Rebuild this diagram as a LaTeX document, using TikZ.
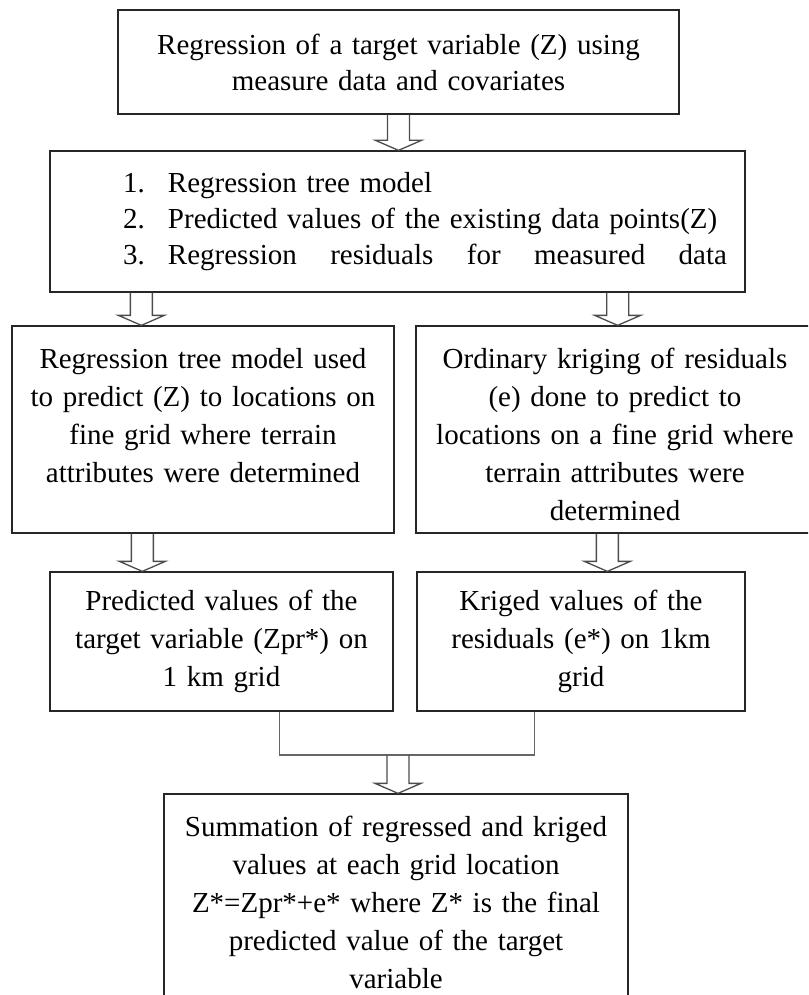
\documentclass[tikz,border=0pt]{standalone}
\usepackage{fontspec}
\setmainfont{Liberation Serif}
\usetikzlibrary{calc, positioning}

\begin{document}
\begin{tikzpicture}[ % Starts the TikZ drawing environment
        x=1pt, y=-1pt, % One unit per pixel, y grows downwards
        every node/.style={align=center, inner sep=0pt, font=\fontsize{29}{38}\selectfont}, % Default style for all nodes
        mybox/.style={rectangle, draw=black!85, line width=1.3pt}, % Boxes with a dark border
        topalign/.style={text height=0pt, text depth=123pt}, % Text starts near the top of the box
        myblock/.style={draw=black!70, line width=1.3pt, to path={
            let \p1=(\tikztostart), \p2=(\tikztotarget) in
            (\x1-11pt,\y1) -- (\x1-11pt,\y2+10pt) -- (\x1-23pt,\y2+10pt) -- (\x1,\y2)
            -- (\x1+23pt,\y2+10pt) -- (\x1+11pt,\y2+10pt) -- (\x1+11pt,\y1)}}, % Hollow block arrow
        myline/.style={draw=black!60, line width=1.3pt} % Joining line
    ]
    \useasboundingbox (0,0) rectangle (808,995); % Page size
    \clip (0,0) rectangle (808,995);
    % --- TikZ Nodes (positioning and content) ---
    \node (A) [mybox, minimum width=561pt, minimum height=104pt, text width=550pt, font=\fontsize{29}{36}\selectfont] at (398.5,62) {Regression of a target variable (Z) using\\ measure data and covariates};
    \node (B) [mybox, minimum width=695pt, minimum height=141pt, text width=549pt, align=left, font=\fontsize{29}{36}\selectfont] at (397.5,221.5) {\makebox[45pt][l]{1.}Regression tree model\\ \makebox[45pt][l]{2.}\mbox{Predicted values of the existing data points(Z)}\\ \makebox[45pt][l]{3.}\makebox[559pt][l]{Regression\hfill residuals\hfill for\hfill measured\hfill data}};
    \node (C) [mybox, topalign, minimum width=382pt, minimum height=207pt, text width=376pt] at (203,429.5) {Regression tree model used\\ to predict (Z) to locations on\\ fine grid where terrain\\ attributes were determined};
    \node (D) [mybox, topalign, minimum width=398pt, minimum height=207pt, text width=392pt] at (615,429.5) {Ordinary kriging of residuals\\ (e) done to predict to\\ locations on a fine grid where\\ terrain attributes were\\ determined};
    \node (E) [mybox, minimum width=343pt, minimum height=139pt, text width=337pt] at (221.5,641.5) {Predicted values of the\\ target variable (Zpr*) on\\ 1 km grid};
    \node (F) [mybox, minimum width=328pt, minimum height=139pt, text width=322pt] at (581,641.5) {Kriged values of the\\ residuals (e*) on 1km\\ grid};
    \node (G) [mybox, minimum width=464pt, minimum height=216pt, text width=458pt] at (396,902) {Summation of regressed and kriged\\ values at each grid location\\ Z*=Zpr*+e* where Z* is the final\\ predicted value of the target\\ variable};
    \coordinate (J) at (398,755); % Meeting point of the two lower branches
    % --- TikZ Connections (block arrows between nodes) ---
    \draw[myblock] (A.south) to (B.north);
    \draw[myblock] ([xshift=92pt]B.south west) to (C.north);
    \draw[myblock] ([xshift=-128pt]B.south east) to (D.north);
    \draw[myblock] ([xshift=131pt]C.south west) to (E.north);
    \draw[myblock] ([xshift=192pt]D.south west) to (F.north);
    \draw[myline] ([xshift=230pt]E.south west) |- (J) -| ([xshift=118pt]F.south west);
    \draw[myblock] (J) to (G.north);
    \end{tikzpicture}
\end{document}
